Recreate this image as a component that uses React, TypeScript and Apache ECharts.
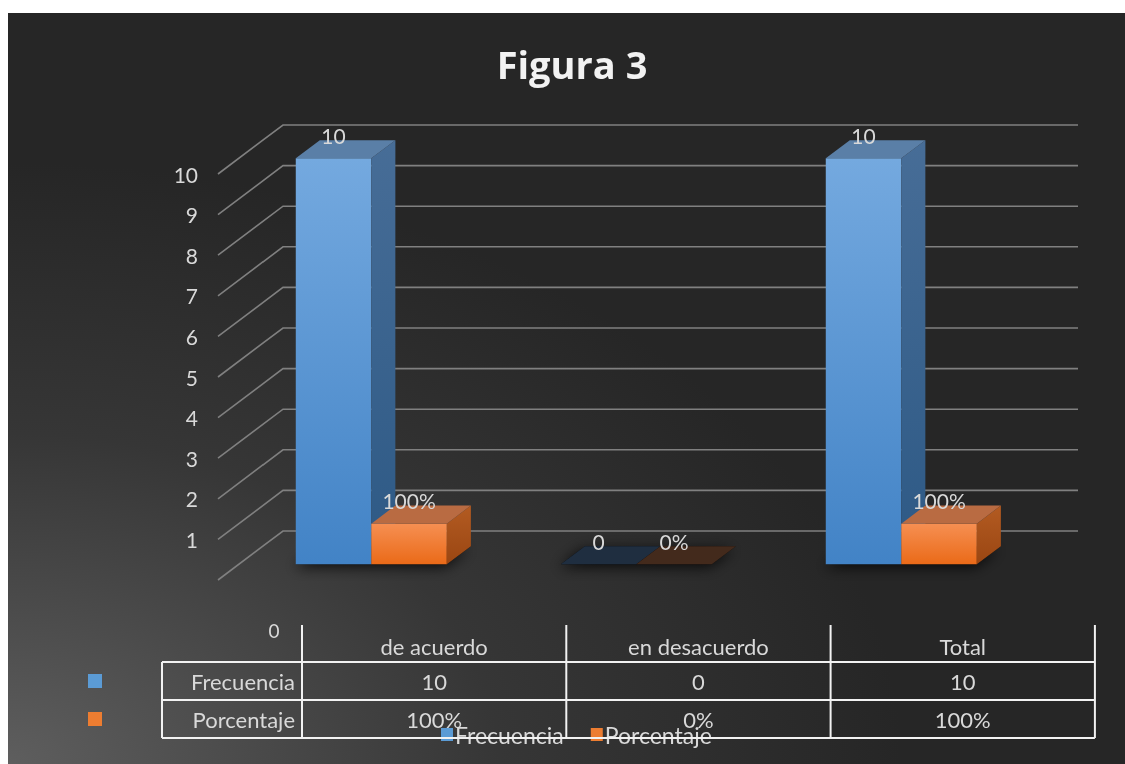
import React, { useEffect, useRef } from "react";
import * as echarts from "echarts";

// Data
const categories = ["de acuerdo", "en desacuerdo", "Total"];
const frecuencia = [10, 0, 10];
const porcentaje = [1, 0, 1]; // 1 = 100%
const yTicks = [0, 1, 2, 3, 4, 5, 6, 7, 8, 9, 10];
const seriesNames = ["Frecuencia", "Porcentaje"];

const FONT = "Lato, 'Open Sans', sans-serif";
const TEXT = "#d9d9d9";

// Oblique depth vector of the 3D floor (px) and bar depth range
const DX = 65;
const DY = -49;
const D0 = 0.32;
const D1 = 0.69;
const BAR_FRAC = 0.285;

// Chart box
const W = 1117;
const H = 751;
const GRID = { left: 210, top: 161, width: 795, height: 406 };

// Table layout
const TBL_LEFT = 294;
const TBL_COL = 264.3;
const TBL_BOX_LEFT = 154;
const TBL_HEAD_TOP = 612;
const TBL_ROW_Y = [649, 687, 725];

const fmtPct = (v: number) => `${Math.round(v * 100)}%`;

const faces = {
  blue: {
    front: ["#74a9df", "#4283c6"],
    side: ["#476d97", "#2d5985"],
    top: "#5a7fa7",
    flat: "#1f2e40",
    legend: "#5b9bd5",
  },
  orange: {
    front: ["#f68f52", "#ea6a18"],
    side: ["#b35b22", "#9a4612"],
    top: "#b96b42",
    flat: "#432a1c",
    legend: "#ed7d31",
  },
};

const vGrad = (c: string[]) =>
  new echarts.graphic.LinearGradient(0, 0, 0, 1, [
    { offset: 0, color: c[0] },
    { offset: 1, color: c[1] },
  ]);

function barRenderer(kind: "blue" | "orange", side: number, label: (v: number) => string) {
  const pal = faces[kind];
  return (params: any, api: any) => {
    const i = api.value(0);
    const v = api.value(1);
    const [cx, yTop] = api.coord([i, v]);
    const yBase = api.coord([i, 0])[1];
    const bw = api.size([1, 0])[0];
    const x0 = side < 0 ? cx - BAR_FRAC * bw : cx;
    const x1 = side < 0 ? cx : cx + BAR_FRAC * bw;
    const fx = D0 * DX, fy = D0 * DY, bx = D1 * DX, by = D1 * DY;
    const front = [
      [x0 + fx, yTop + fy], [x1 + fx, yTop + fy],
      [x1 + fx, yBase + fy], [x0 + fx, yBase + fy],
    ];
    const sideF = [
      [x1 + fx, yTop + fy], [x1 + bx, yTop + by],
      [x1 + bx, yBase + by], [x1 + fx, yBase + fy],
    ];
    const top = [
      [x0 + fx, yTop + fy], [x0 + bx, yTop + by],
      [x1 + bx, yTop + by], [x1 + fx, yTop + fy],
    ];
    const flat = v === 0;
    const children: any[] = [];
    if (!flat) {
      children.push({ type: "polygon", shape: { points: front }, style: { fill: vGrad(pal.front) } });
      children.push({ type: "polygon", shape: { points: sideF }, style: { fill: vGrad(pal.side) } });
    }
    children.push({ type: "polygon", shape: { points: top }, style: { fill: flat ? pal.flat : pal.top } });
    children.push({
      type: "text",
      style: {
        x: (x0 + x1) / 2 + fx,
        y: yTop + by - 5,
        text: label(v),
        fill: TEXT,
        font: `21px ${FONT}`,
        align: "center",
        verticalAlign: "middle",
      },
    });
    return { type: "group", children };
  };
}

function shadowRenderer(params: any, api: any) {
  const i = api.value(0);
  const yBase = api.coord([i, 0])[1];
  const cx = api.coord([i, 0])[0];
  const bw = api.size([1, 0])[0];
  const x0 = cx - BAR_FRAC * bw, x1 = cx + BAR_FRAC * bw;
  const fx = D0 * DX, fy = D0 * DY, bx = D1 * DX, by = D1 * DY;
  return {
    type: "polygon",
    shape: {
      points: [
        [x0 + fx, yBase + fy], [x1 + fx, yBase + fy],
        [x1 + bx, yBase + by], [x0 + bx, yBase + by],
      ],
    },
    style: { fill: "rgba(0,0,0,0.85)", shadowBlur: 14, shadowColor: "rgba(0,0,0,0.9)", shadowOffsetX: -2, shadowOffsetY: 3 },
  };
}

function gridRenderer(params: any, api: any) {
  const y = api.coord([0, api.value(1)])[1];
  const xl = params.coordSys.x;
  const xr = params.coordSys.x + params.coordSys.width;
  return {
    type: "polyline",
    shape: { points: [[xl, y], [xl + DX, y + DY], [xr + DX, y + DY]] },
    style: { stroke: "#808080", lineWidth: 1.6, fill: null },
  };
}

function tableGraphics() {
  const els: any[] = [];
  const right = TBL_LEFT + TBL_COL * categories.length;
  const line = (x1: number, y1: number, x2: number, y2: number) =>
    els.push({ type: "line", shape: { x1, y1, x2, y2 }, style: { stroke: "#f2f2f2", lineWidth: 2 }, z: 10 });
  const text = (x: number, y: number, t: string, align = "center") =>
    els.push({
      type: "text",
      x, y,
      style: { text: t, fill: TEXT, font: `22px ${FONT}`, align, verticalAlign: "middle" },
      z: 11,
    });
  // column separators
  for (let c = 0; c <= categories.length; c++) {
    line(TBL_LEFT + c * TBL_COL, TBL_HEAD_TOP, TBL_LEFT + c * TBL_COL, TBL_ROW_Y[2]);
  }
  line(TBL_BOX_LEFT, TBL_ROW_Y[0], TBL_BOX_LEFT, TBL_ROW_Y[2]);
  TBL_ROW_Y.forEach((y) => line(TBL_BOX_LEFT, y, right, y));
  // header
  categories.forEach((c, k) => text(TBL_LEFT + (k + 0.5) * TBL_COL, 633, c));
  // rows
  const rows = [
    { name: seriesNames[0], vals: frecuencia.map(String), color: faces.blue.legend },
    { name: seriesNames[1], vals: porcentaje.map(fmtPct), color: faces.orange.legend },
  ];
  rows.forEach((r, k) => {
    const y = (TBL_ROW_Y[k] + TBL_ROW_Y[k + 1]) / 2;
    text(TBL_LEFT - 7, y, r.name, "right");
    r.vals.forEach((v, c) => text(TBL_LEFT + (c + 0.5) * TBL_COL, y, v));
    els.push({ type: "rect", shape: { x: 80, y: y - 7, width: 14, height: 14 }, style: { fill: r.color }, z: 11 });
  });
  // stray axis zero label
  els.push({
    type: "text",
    x: 266, y: 617,
    style: { text: "0", fill: TEXT, font: `19px ${FONT}`, align: "center", verticalAlign: "middle" },
    z: 11,
  });
  return els;
}

export default function App() {
  const ref = useRef<HTMLDivElement>(null);
  useEffect(() => {
    const chart = echarts.init(ref.current!, null, { renderer: "svg" });
    chart.setOption({
      animation: false,
      backgroundColor: {
        type: "radial",
        x: 0,
        y: 1,
        r: 0.8,
        colorStops: [
          { offset: 0, color: "#5e5e5e" },
          { offset: 0.55, color: "#363636" },
          { offset: 1, color: "#262626" },
        ],
      },
      textStyle: { fontFamily: FONT },
      graphic: [
        {
          type: "text",
          x: 564,
          y: 51,
          style: {
            text: "Figura 3",
            fill: "#f2f2f2",
            font: `bold 38px 'Open Sans', ${FONT}`,
            align: "center",
            verticalAlign: "middle",
          },
        },
        ...tableGraphics(),
      ],
      legend: {
        data: seriesNames,
        left: 428,
        top: 705,
        icon: "rect",
        itemWidth: 12,
        itemHeight: 13,
        itemGap: 27,
        textStyle: { color: TEXT, fontSize: 23, fontFamily: FONT, padding: [0, 0, 0, -3] },
        selectedMode: false,
      },
      grid: { ...GRID },
      xAxis: { type: "category", data: categories, show: false },
      yAxis: {
        type: "value",
        min: 0,
        max: 10,
        interval: 1,
        axisLine: { show: false },
        axisTick: { show: false },
        splitLine: { show: false },
        axisLabel: { color: TEXT, fontSize: 21, fontFamily: FONT, margin: 20, showMinLabel: false },
      },
      series: [
        {
          type: "custom",
          name: "grid3d",
          silent: true,
          clip: false,
          z: 1,
          encode: { x: 0, y: 1 },
          data: yTicks.map((t) => [0, t]),
          renderItem: gridRenderer,
        },
        {
          type: "custom",
          name: "shadow",
          silent: true,
          clip: false,
          z: 2,
          encode: { x: 0, y: 1 },
          data: categories.map((_, i) => [i, 0]),
          renderItem: shadowRenderer,
        },
        {
          type: "custom",
          name: seriesNames[0],
          clip: false,
          z: 3,
          itemStyle: { color: faces.blue.legend },
          encode: { x: 0, y: 1 },
          data: frecuencia.map((v, i) => [i, v]),
          renderItem: barRenderer("blue", -1, (v) => String(v)),
        },
        {
          type: "custom",
          name: seriesNames[1],
          clip: false,
          z: 4,
          itemStyle: { color: faces.orange.legend },
          encode: { x: 0, y: 1 },
          data: porcentaje.map((v, i) => [i, v]),
          renderItem: barRenderer("orange", 1, fmtPct),
        },
      ],
    });
    return () => chart.dispose();
  }, []);
  return (
    <div
      ref={ref}
      style={{ position: "fixed", left: 8, top: 13, width: W, height: H }}
    />
  );
}
